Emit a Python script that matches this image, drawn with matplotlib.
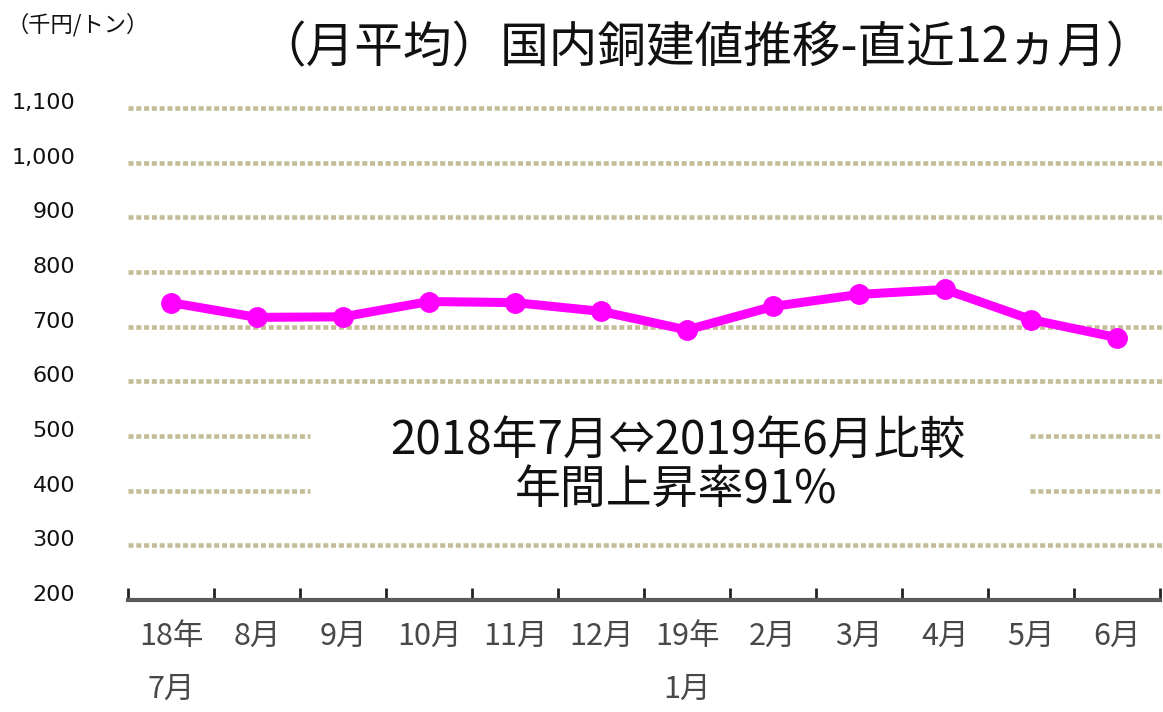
import matplotlib
matplotlib.use("Agg")
import matplotlib.pyplot as plt
import matplotlib.transforms as mtransforms

plt.rcParams["font.family"] = ["Noto Sans CJK JP", "DejaVu Sans"]

# data
months = ["18年\n7月", "8月", "9月", "10月", "11月", "12月",
          "19年\n1月", "2月", "3月", "4月", "5月", "6月"]
prices = [744, 717, 718, 746, 744, 728, 694, 737, 759, 768, 713, 680]
y_ticks = [200, 300, 400, 500, 600, 700, 800, 900, 1000, 1100]
y_labels = ["200", "300", "400", "500", "600", "700", "800", "900", "1,000", "1,100"]

title = "（月平均）国内銅建値推移-直近12ヵ月）"
unit = "（千円/トン）"
note1 = "2018年7月⇔2019年6月比較"
note2 = "年間上昇率91%"

GRID_C = "#c4bd98"

fig = plt.figure(figsize=(11.63, 7.12), dpi=100)
ax = fig.add_axes([128 / 1163, 112 / 712, 1032 / 1163, 492 / 712])

xs = list(range(1, len(months) + 1))
ax.set_xlim(0.5, len(months) + 0.5)
ax.set_ylim(200, 1100)

# dotted grid lines (400/500 broken by the note)
for v in y_ticks[1:]:
    if v in (400, 500):
        ax.axhline(v, xmin=0, xmax=0.176, color=GRID_C, lw=3.3,
                   dashes=(1.1, 0.6), clip_on=False, zorder=1)
        ax.axhline(v, xmin=0.874, xmax=1.005, color=GRID_C, lw=3.3,
                   dashes=(1.1, 0.6), clip_on=False, zorder=1)
    else:
        ax.axhline(v, xmin=0, xmax=1.005, color=GRID_C, lw=3.3,
                   dashes=(1.1, 0.6), clip_on=False, zorder=1)

ax.plot(xs, prices, color="#ff00ff", lw=6.5, marker="o", ms=14,
        solid_capstyle="round", solid_joinstyle="round", zorder=3)

for s in ["top", "right", "left"]:
    ax.spines[s].set_visible(False)
ax.spines["bottom"].set_color("#5a5a5a")
ax.spines["bottom"].set_linewidth(3)

# ticks at category boundaries
ax.set_xticks([x + 0.5 for x in range(0, len(months) + 1)])
ax.set_xticklabels([])
ax.tick_params(axis="x", which="major", direction="in", length=9,
               width=2, color="#222222")
ax.set_xticks(xs, minor=True)
ax.set_xticklabels(months, minor=True, fontsize=22, color="#484848",
                   linespacing=1.9)
ax.tick_params(axis="x", which="minor", length=0, pad=15)

ax.set_yticks(y_ticks)
ax.set_yticklabels(y_labels, family="DejaVu Sans", fontsize=16,
                   color="#111111")
ax.tick_params(axis="y", length=0, pad=38)
shift = mtransforms.ScaledTranslation(0, 7 / 100, fig.dpi_scale_trans)
for lab in ax.get_yticklabels():
    lab.set_transform(lab.get_transform() + shift)

fig.text(0.607, 0.932, title, ha="center", va="center", fontsize=35,
         color="#111111")
fig.text(0.006, 0.965, unit, ha="left", va="center", fontsize=16,
         color="#111111")

fig.text(0.583, 0.382, note1, ha="center", va="center", fontsize=33,
         color="#111111")
fig.text(0.581, 0.312, note2, ha="center", va="center", fontsize=33,
         color="#111111")

fig.savefig("out.png", dpi=100)
